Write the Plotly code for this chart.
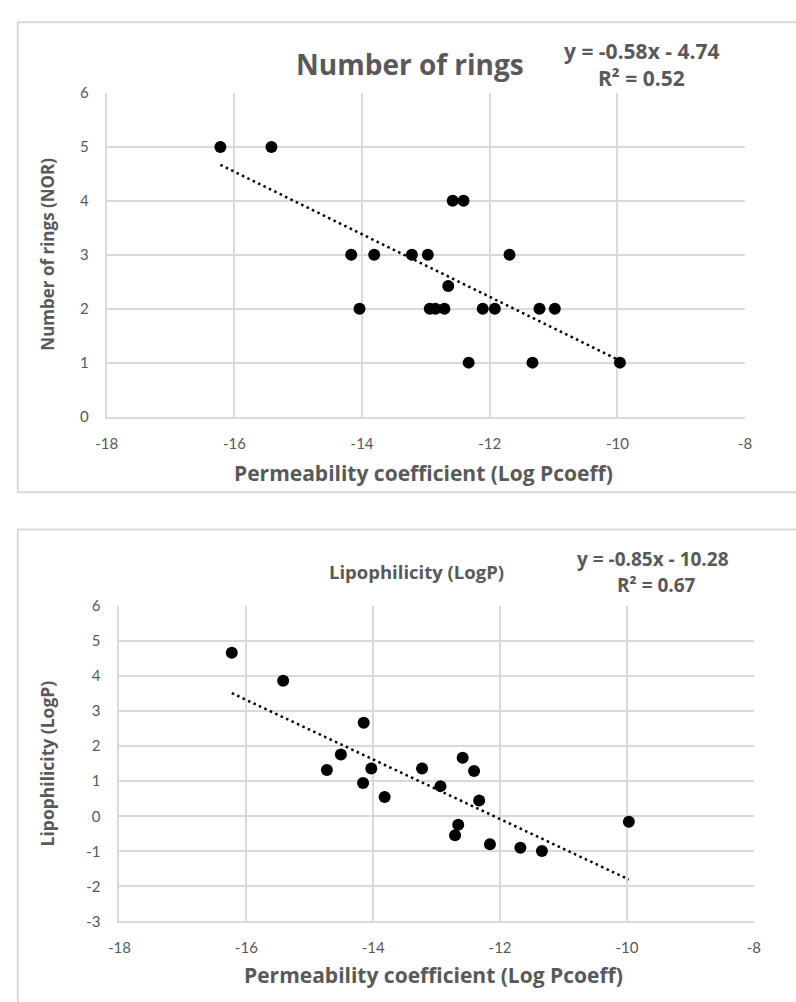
import plotly.graph_objects as go

# Permeability coefficient (Log Pcoeff) vs number of rings
rings_logp = [-16.22, -15.42, -12.58, -12.41, -14.17, -13.81, -13.22, -12.97, -11.69,
              -12.65, -14.04, -12.94, -12.85, -12.71, -12.11, -11.92, -11.22, -10.98,
              -12.33, -11.33, -9.96]
rings_nor = [5, 5, 4, 4, 3, 3, 3, 3, 3,
             2.42, 2, 2, 2, 2, 2, 2, 2, 2,
             1, 1, 1]
rings_slope, rings_intercept, rings_r2 = -0.58, -4.74, 0.52

# Permeability coefficient (Log Pcoeff) vs lipophilicity
lipo_logpc = [-16.23, -15.42, -14.15, -14.51, -14.73, -14.03, -14.16, -13.82, -13.23,
              -12.94, -12.59, -12.41, -12.33, -12.66, -12.71, -12.16, -11.68, -11.34,
              -9.97]
lipo_logp = [4.67, 3.87, 2.67, 1.76, 1.32, 1.36, 0.95, 0.55, 1.36,
             0.86, 1.67, 1.29, 0.45, -0.24, -0.54, -0.80, -0.90, -0.99,
             -0.16]
lipo_slope, lipo_intercept, lipo_r2 = -0.85, -10.28, 0.67

x_ticks = [-18, -16, -14, -12, -10, -8]
rings_ticks = [0, 1, 2, 3, 4, 5, 6]
lipo_ticks = [-3, -2, -1, 0, 1, 2, 3, 4, 5, 6]

W, H = 796, 1002
TICK_FONT = "Lato"
BOLD_FONT = "Open Sans"
TXT = "#595959"
GRID = "#d9d9d9"


def px_x(p):
    return p / W


def px_y(p):
    return 1 - p / H


def trend(xs, slope, intercept):
    x0, x1 = min(xs), max(xs)
    return [x0, x1], [slope * x0 + intercept, slope * x1 + intercept]


def fmt_eq(slope, intercept):
    sign = "-" if intercept < 0 else "+"
    return f"y = {slope:.2f}x {sign} {abs(intercept):.2f}"


def hyphen_labels(vals):
    # plain hyphen-minus rather than the typographic minus sign
    return [str(v) for v in vals]


fig = go.Figure()

# top chart
fig.add_trace(go.Scatter(x=rings_logp, y=rings_nor, mode="markers",
                         marker=dict(color="black", size=12),
                         xaxis="x", yaxis="y", showlegend=False))
tx, ty = trend(rings_logp, rings_slope, rings_intercept)
fig.add_trace(go.Scatter(x=tx, y=ty, mode="lines",
                         line=dict(color="black", width=2.5, dash="2.5px,3.5px"),
                         xaxis="x", yaxis="y", showlegend=False))

# bottom chart
fig.add_trace(go.Scatter(x=lipo_logpc, y=lipo_logp, mode="markers",
                         marker=dict(color="black", size=12),
                         xaxis="x2", yaxis="y2", showlegend=False))
tx, ty = trend(lipo_logpc, lipo_slope, lipo_intercept)
fig.add_trace(go.Scatter(x=tx, y=ty, mode="lines",
                         line=dict(color="black", width=2.5, dash="2.5px,3.5px"),
                         xaxis="x2", yaxis="y2", showlegend=False))

axis_common = dict(showgrid=True, gridcolor=GRID, gridwidth=1.5, zeroline=False,
                   showline=True, linecolor=GRID, linewidth=2, ticks="",
                   tickfont=dict(family=TICK_FONT, size=15, color=TXT))

fig.update_layout(
    width=W, height=H,
    margin=dict(l=0, r=0, t=0, b=0),
    paper_bgcolor="white", plot_bgcolor="white",
    xaxis=dict(domain=[px_x(98), px_x(751)], range=[-18, -8],
               tickvals=x_ticks, ticktext=hyphen_labels(x_ticks),
               anchor="y", ticklabelstandoff=12, **axis_common),
    yaxis=dict(domain=[px_y(414), px_y(84.5)], range=[0, 6],
               tickvals=rings_ticks, ticktext=hyphen_labels(rings_ticks),
               anchor="x", ticklabelstandoff=13, **axis_common),
    xaxis2=dict(domain=[px_x(111), px_x(760)], range=[-18, -8],
                tickvals=x_ticks, ticktext=hyphen_labels(x_ticks),
                anchor="y2", ticklabelstandoff=12, **axis_common),
    yaxis2=dict(domain=[px_y(928), px_y(607)], range=[-3, 6],
                tickvals=lipo_ticks, ticktext=hyphen_labels(lipo_ticks),
                anchor="x2", ticklabelstandoff=14, **axis_common),
)

# panel borders
fig.add_shape(type="rect", xref="paper", yref="paper",
              x0=px_x(7), x1=px_x(820), y0=px_y(491), y1=px_y(12.5),
              line=dict(color=GRID, width=2), layer="below")
fig.add_shape(type="rect", xref="paper", yref="paper",
              x0=px_x(7), x1=px_x(820), y0=px_y(1060), y1=px_y(529),
              line=dict(color=GRID, width=2), layer="below")


def label(text, x, y, size, angle=0):
    fig.add_annotation(text=f"<b>{text}</b>",
                       xref="paper", yref="paper", x=px_x(x), y=px_y(y),
                       xanchor="center", yanchor="middle", showarrow=False,
                       textangle=angle,
                       font=dict(family=BOLD_FONT, size=size, color=TXT))


# top chart text
label("Number of rings", 408, 55, 28)
label(fmt_eq(rings_slope, rings_intercept), 645, 42, 21)
label(f"R² = {rings_r2:.2f}", 645, 69, 21)
label("Number of rings (NOR)", 37, 249, 17, angle=-90)
label("Permeability coefficient (Log Pcoeff)", 422, 471, 21)

# bottom chart text
label("Lipophilicity (LogP)", 415, 572, 18.5)
label(fmt_eq(lipo_slope, lipo_intercept), 657, 559, 19)
label(f"R² = {lipo_r2:.2f}", 660, 586, 19)
label("Lipophilicity (LogP)", 37, 767, 17.5, angle=-90)
label("Permeability coefficient (Log Pcoeff)", 432, 983, 21)

fig.write_html("out.html")
